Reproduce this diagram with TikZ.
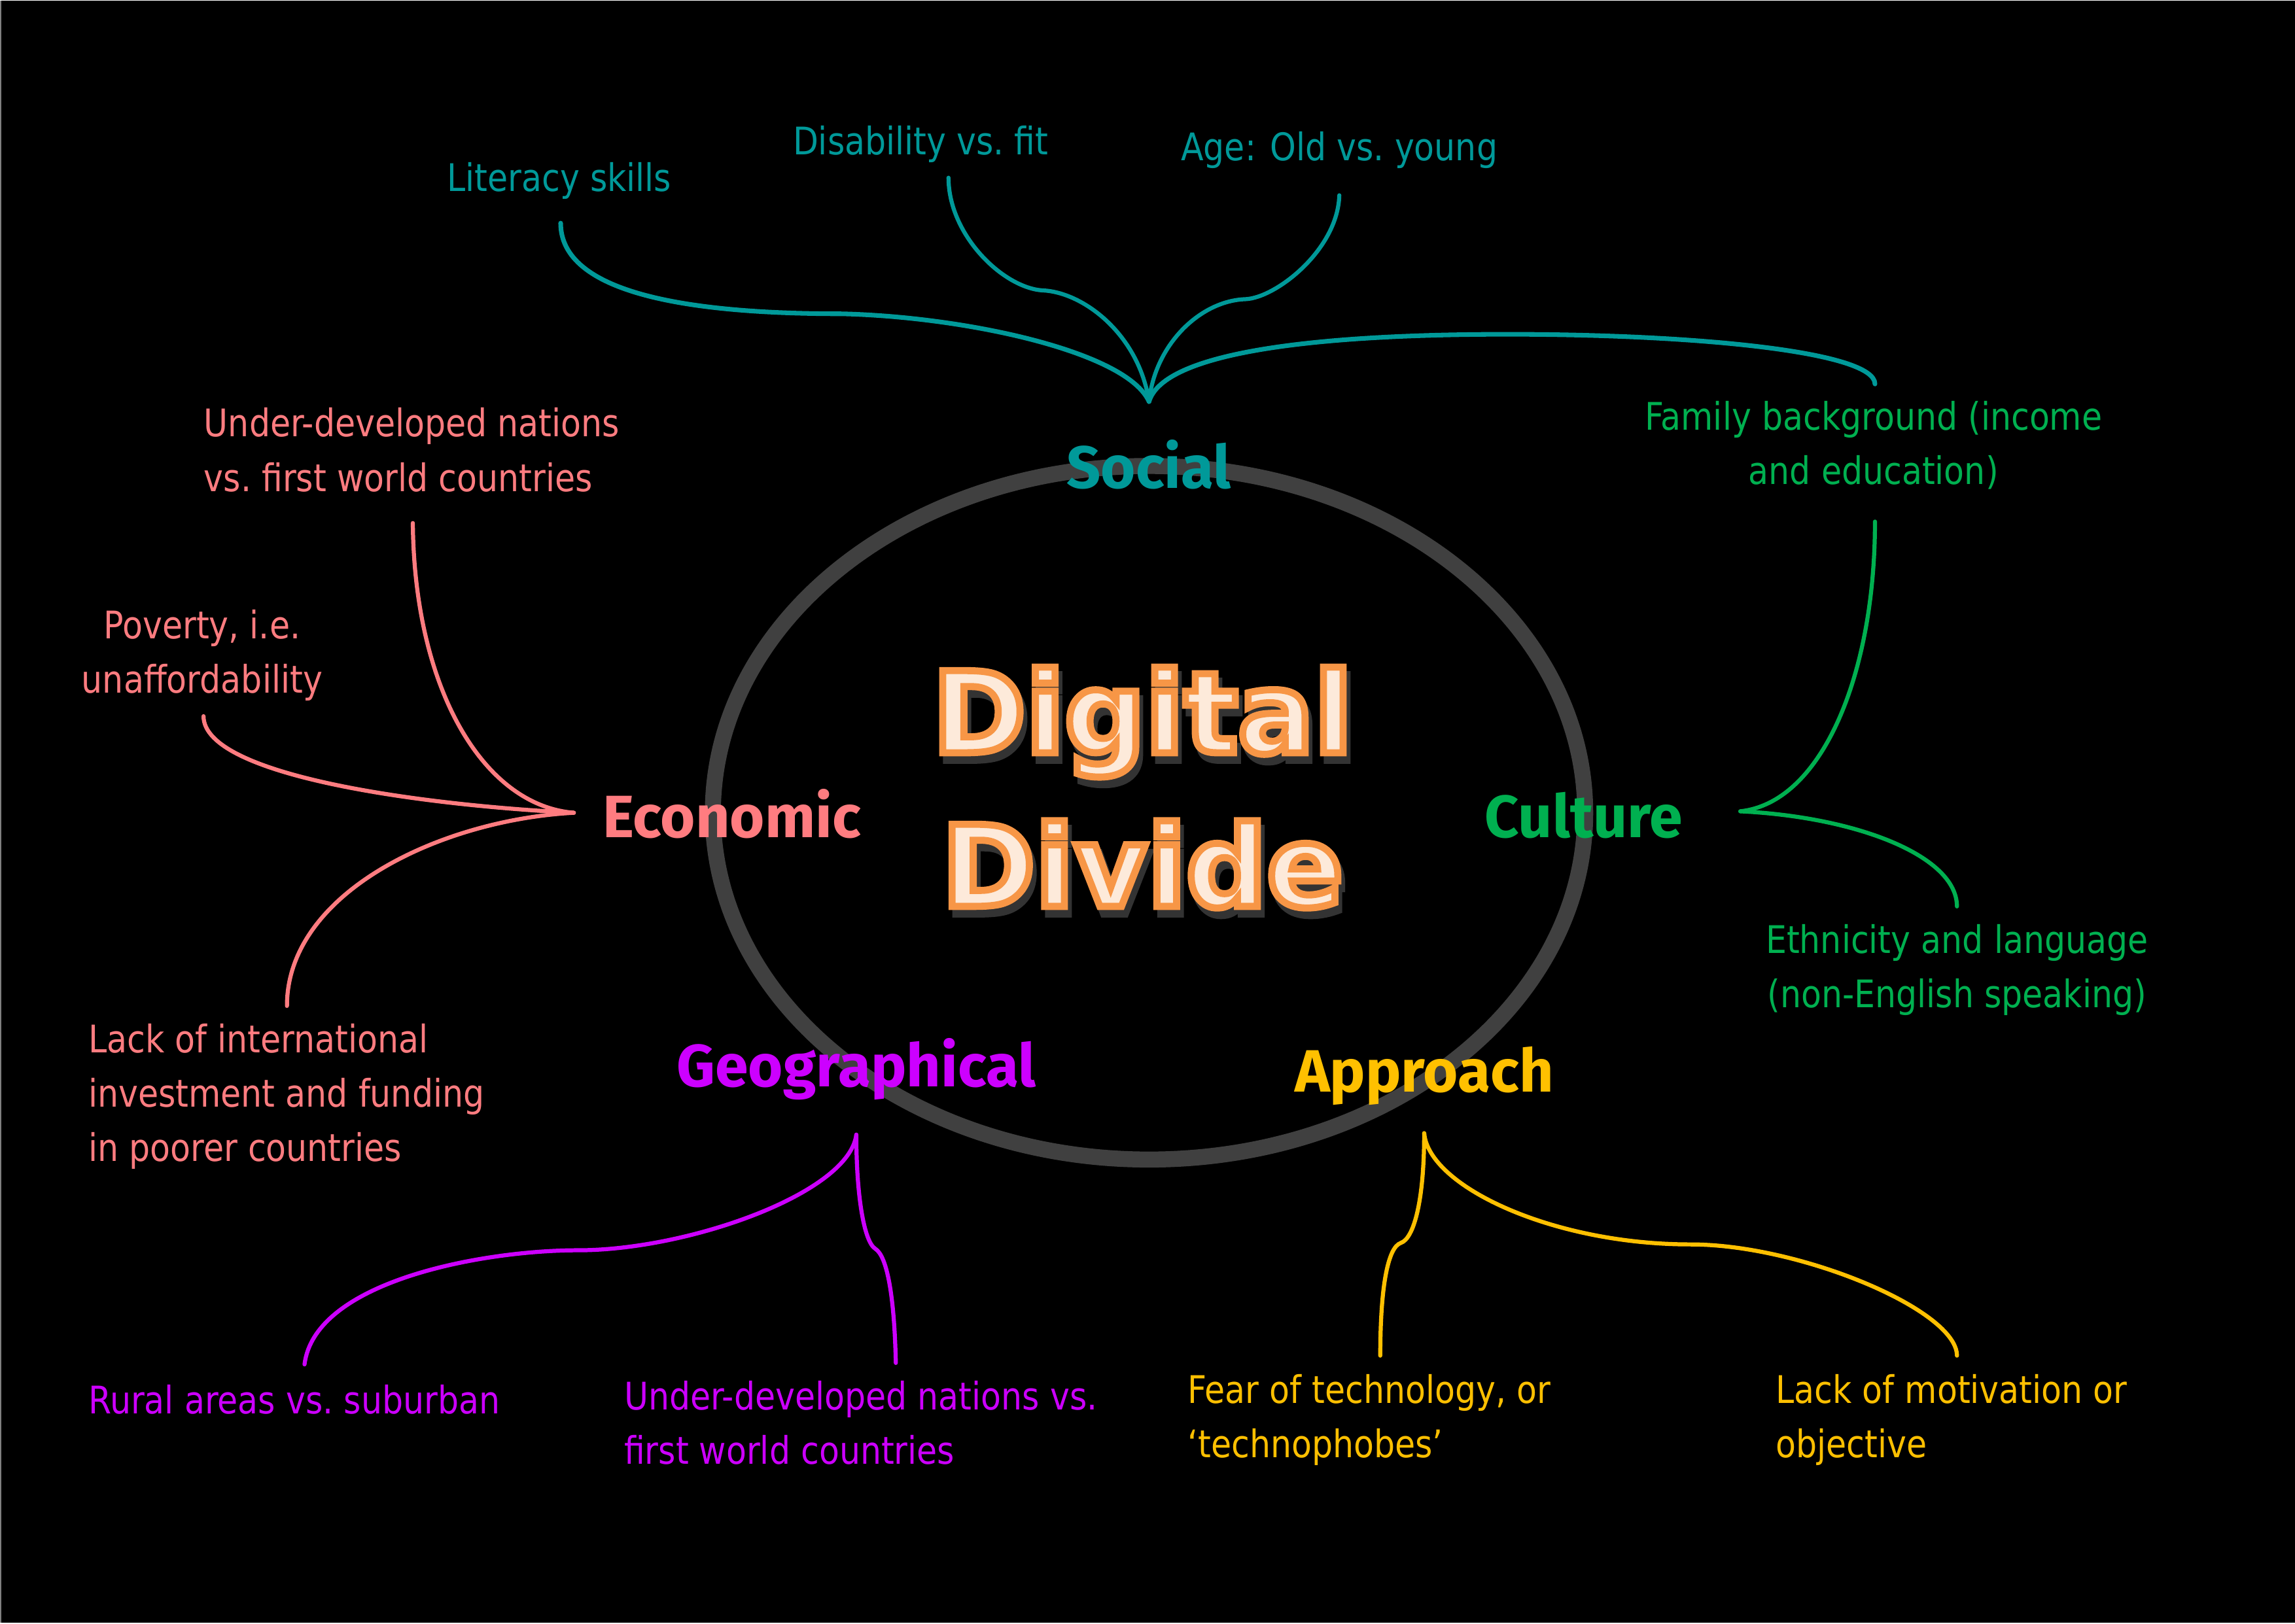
\documentclass[tikz,border=0pt]{standalone}
\usepackage{fontspec}
\newfontfamily\leaffont[FakeStretch=0.87]{DejaVu Sans}
\newfontfamily\catfont{Fira Sans}
\newfontfamily\titlefont{DejaVu Sans}

\definecolor{socialc}{HTML}{009999}
\definecolor{econc}{HTML}{FF7C80}
\definecolor{culturec}{HTML}{00B050}
\definecolor{geoc}{HTML}{CC00FF}
\definecolor{apprc}{HTML}{FFC000}
\definecolor{ringc}{HTML}{404040}
\definecolor{titlefill}{HTML}{FDEADA}
\definecolor{titleshadow}{HTML}{333333}

% outlined title text (stroke F79646) with a drop shadow
\newcommand{\ringtitle}[1]{%
  \rlap{\kern1.4pt\raisebox{-2.8pt}{\color{titleshadow}%
    \special{pdf:literal direct 2 Tr 2.6 w}#1\special{pdf:literal direct 0 Tr}}}%
  {\color{titlefill}%
    \special{pdf:literal direct 2 Tr 2.6 w 0.969 0.588 0.275 RG}#1\special{pdf:literal direct 0 Tr}}}

\begin{document}
\begin{tikzpicture}[x=0.018941cm, y=-0.018941cm,
  leaf/.style={inner sep=0pt, font=\leaffont\fontsize{14pt}{20pt}\selectfont},
  cat/.style={inner sep=0pt, anchor=base, font=\catfont\bfseries\fontsize{22pt}{26pt}\selectfont},
  titletext/.style={inner sep=0pt, anchor=base, font=\titlefont\bfseries\fontsize{41.5pt}{46pt}\selectfont},
  link/.style={line width=1.5pt, line cap=round}]

  \fill[black] (0,0) rectangle (1568,1108.7);
  \draw[gray, line width=0.5pt] (0.4,0) -- (0.4,1108.7);

  % hub ring
  \draw[ringc, line width=5.9pt] (785,555) ellipse [x radius=298, y radius=237];

  % fork tips
  \coordinate (socialtip) at (785,274);
  \coordinate (econtip) at (392,555);
  \coordinate (culturetip) at (1189,554);
  \coordinate (geotip) at (585,775);
  \coordinate (apprtip) at (973,774);

  % free ends next to the texts
  \coordinate (literacyend) at (383,152);
  \coordinate (disabilityend) at (648,121);
  \coordinate (ageend) at (915,133);
  \coordinate (familytop) at (1281,262);
  \coordinate (nationsend) at (282,357);
  \coordinate (povertyend) at (139,489);
  \coordinate (fundingend) at (196,687);
  \coordinate (familyend) at (1281,356);
  \coordinate (ethnicend) at (1337,619);
  \coordinate (ruralend) at (208,932);
  \coordinate (worldsend) at (612,931);
  \coordinate (fearend) at (943,926);
  \coordinate (motiveend) at (1337,926);

  % social
  \draw[link, socialc, line width=1.7pt] (literacyend) .. controls (383,200) and (470,214) .. (575,214)
    .. controls (660,216) and (770,240) .. (socialtip);
  \draw[link, socialc] (disabilityend) .. controls (648,160) and (685,196) .. (712,198)
    .. controls (740,199) and (778,228) .. (socialtip);
  \draw[link, socialc] (ageend) .. controls (914,170) and (872,203) .. (851,204)
    .. controls (820,205) and (789,235) .. (socialtip);
  \draw[link, socialc, line width=1.7pt] (socialtip) .. controls (795,240) and (900,228) .. (1030,228)
    .. controls (1160,228) and (1281,240) .. (familytop);

  % economic
  \draw[link, econc] (nationsend) .. controls (283,470) and (330,550) .. (econtip);
  \draw[link, econc] (povertyend) .. controls (139,530) and (290,550) .. (econtip);
  \draw[link, econc] (fundingend) .. controls (196,610) and (300,560) .. (econtip);

  % culture
  \draw[link, culturec] (familyend) .. controls (1281,460) and (1245,548) .. (culturetip);
  \draw[link, culturec] (culturetip) .. controls (1270,558) and (1337,585) .. (ethnicend);

  % geographical
  \draw[link, geoc] (ruralend) .. controls (215,875) and (330,854) .. (395,854)
    .. controls (470,854) and (580,815) .. (geotip);
  \draw[link, geoc] (worldsend) .. controls (611,885) and (606,858) .. (598,853)
    .. controls (590,848) and (585,815) .. (geotip);

  % approach
  \draw[link, apprc] (fearend) .. controls (943,880) and (948,852) .. (957,849)
    .. controls (966,846) and (973,820) .. (apprtip);
  \draw[link, apprc] (apprtip) .. controls (976,810) and (1060,850) .. (1155,850)
    .. controls (1230,850) and (1337,895) .. (motiveend);

  % categories
  \node[cat, text=socialc] (social) at (785,333) {Social};
  \node[cat, text=econc] (economic) at (500,572) {Economic};
  \node[cat, text=culturec] (culture) at (1082,572) {Culture};
  \node[cat, text=geoc] (geo) at (585,742) {Geographical};
  \node[cat, text=apprc] (approach) at (973,746) {Approach};

  % leaves
  \node[leaf, text=socialc] (literacy) at (382,123) {Literacy skills};
  \node[leaf, text=socialc] (disability) at (629,98) {Disability vs.\ fit};
  \node[leaf, text=socialc] (age) at (915,102) {Age: Old vs.\ young};
  \node[leaf, text=culturec, align=center] (family) at (1280,304) {Family background (income\\and education)};
  \node[leaf, text=culturec, align=center] (ethnic) at (1337,662.5) {Ethnicity and language\\(non-English speaking)};
  \node[leaf, text=econc, align=left, anchor=west] (nations) at (139,307) {Under-developed nations\\vs.\ first world countries};
  \node[leaf, text=econc, align=center] (poverty) at (138,447.5) {Poverty, i.e.\\unaffordability};
  \node[leaf, text=econc, align=left, anchor=west] (funding) at (60,749) {Lack of international\\investment and funding\\in poorer countries};
  \node[leaf, text=geoc, anchor=west] (rural) at (60,956) {Rural areas vs.\ suburban};
  \node[leaf, text=geoc, align=left, anchor=west] (worlds) at (426,972) {Under-developed nations vs.\\first world countries};
  \node[leaf, text=apprc, align=left, anchor=west] (fear) at (811,970) {Fear of technology, or\\‘technophobes’};
  \node[leaf, text=apprc, align=left, anchor=west] (motive) at (1213,970) {Lack of motivation or\\objective};

  % title
  \node[titletext] (digital) at (780.5,514) {\ringtitle{Digital}};
  \node[titletext] (divide) at (780.5,619) {\ringtitle{Divide}};

\end{tikzpicture}
\end{document}
